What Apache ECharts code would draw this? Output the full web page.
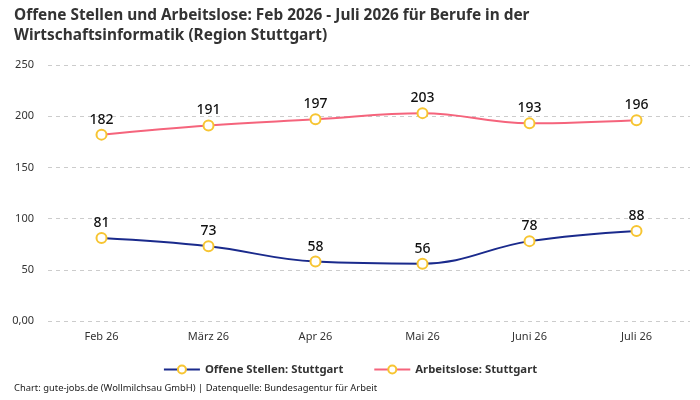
<!DOCTYPE html>
<html><head><meta charset="utf-8">
<script src="https://cdn.jsdelivr.net/npm/echarts@6/dist/echarts.min.js"></script>
<style>html,body{margin:0;padding:0;background:#fff}#c{width:700px;height:400px}</style>
</head><body><div id="c"></div>
<script>
const categories = ['Feb 26','März 26','Apr 26','Mai 26','Juni 26','Juli 26'];
const offeneStellen = [81,73,58,56,78,88];
const arbeitslose = [182,191,197,203,193,196];
const seriesNames = ['Offene Stellen: Stuttgart','Arbeitslose: Stuttgart'];
const FONT = 'Noto Sans';
const chart = echarts.init(document.getElementById('c'));
const mk = (name, data, color) => ({
  name, type:'line', data, smooth:0.4,
  symbol:'circle', symbolSize:10,
  itemStyle:{color:'#fff', borderColor:'#f7c532', borderWidth:2},
  lineStyle:{color, width:2},
  label:{show:true, position:'top', distance:2, color:'#111', fontSize:14, fontFamily:FONT, fontWeight:500},
  emphasis:{disabled:true}
});
chart.setOption({
  animation:false,
  title:[{text:'Offene Stellen und Arbeitslose: Feb 2026 - Juli 2026 für Berufe in der\nWirtschaftsinformatik (Region Stuttgart)',
    left:9, top:1, textStyle:{fontFamily:FONT, fontSize:15.4, fontWeight:'bold', color:'#333', lineHeight:20}},
    {text:'Chart: gute-jobs.de (Wollmilchsau GmbH) | Datenquelle: Bundesagentur für Arbeit', left:9, bottom:2,
    textStyle:{fontFamily:FONT, fontSize:9.4, fontWeight:'normal', color:'#222'}}],
  legend:{bottom:20, left:'center', itemGap:30, itemWidth:36, itemHeight:10,
    textStyle:{fontFamily:FONT, fontSize:11.3, fontWeight:'bold', color:'#333'},
    data:[{name:seriesNames[0], itemStyle:{color:'#fff',borderColor:'#f7c532',borderWidth:2}, lineStyle:{color:'#1a2a8c'}},
          {name:seriesNames[1], itemStyle:{color:'#fff',borderColor:'#f7c532',borderWidth:2}, lineStyle:{color:'#f5647c'}}]},
  grid:{left:48, right:10, top:65, bottom:79},
  xAxis:{type:'category', data:categories, boundaryGap:true,
    axisLine:{show:false}, axisTick:{show:false},
    axisLabel:{fontFamily:FONT, fontSize:11, color:'#333', margin:10}},
  yAxis:{type:'value', min:0, max:250, interval:50,
    axisLabel:{fontFamily:FONT, fontSize:11, color:'#333', margin:14, formatter:v=>v===0?'0,00':String(v)},
    splitLine:{lineStyle:{type:[4,4], color:'#ccc'}}},
  series:[mk(seriesNames[0], offeneStellen, '#1a2a8c'), mk(seriesNames[1], arbeitslose, '#f5647c')]
});
</script></body></html>
